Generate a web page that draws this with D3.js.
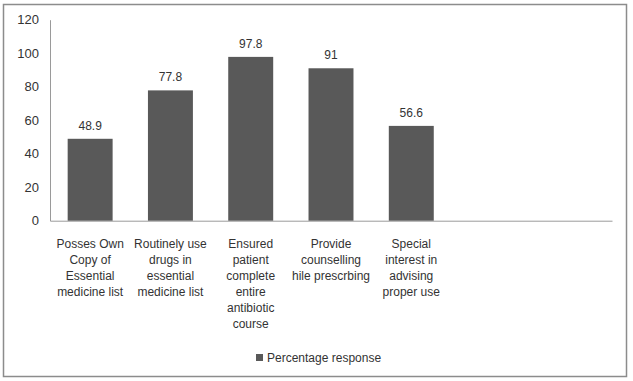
<html>
<head>
    <script src='https://cdnjs.cloudflare.com/ajax/libs/d3/7.8.5/d3.min.js'></script>
    <style>
        body { margin: 0; background: #fff; }
        text { font-family: 'Liberation Sans', Arial, sans-serif; fill: #333; }
    </style>
</head>
<body>
</body>

<script>
    // chart values
    var categories = [
        'Posses Own\nCopy of\nEssential\nmedicine list',
        'Routinely use\ndrugs in\nessential\nmedicine list',
        'Ensured\npatient\ncomplete\nentire\nantibiotic\ncourse',
        'Provide\ncounselling\nhile prescrbing',
        'Special\ninterest in\nadvising\nproper use'
    ];
    var values = [48.9, 77.8, 97.8, 91, 56.6];
    var yTicks = [0, 20, 40, 60, 80, 100, 120];
    var seriesName = 'Percentage response';
    var slotCount = 7; // the category axis keeps two empty slots on the right

    var width = 633, height = 381;
    var plotLeft = 50, plotRight = 612, plotTop = 19.7, plotBottom = 220.7;
    var barColor = '#595959';

    var svg = d3.select('body').append('svg')
                .attr('width', width).attr('height', height);

    // outer frame
    svg.append('rect')
       .attr('x', 3.5).attr('y', 4.5)
       .attr('width', 623).attr('height', 372)
       .style('fill', 'none').style('stroke', '#8c8c8c').style('stroke-width', 1.5);

    var x = d3.scaleBand()
              .domain(d3.range(slotCount))
              .range([plotLeft, plotRight])
              .paddingInner(0.44).paddingOuter(0.22);

    var y = d3.scaleLinear().domain([0, 120]).range([plotBottom, plotTop]);

    // y axis: labels only, plain line
    var yAxis = svg.append('g')
                   .attr('transform', 'translate(' + plotLeft + ',0)')
                   .call(d3.axisLeft(y).tickValues(yTicks).tickSize(0).tickPadding(11));
    yAxis.select('.domain').style('stroke', '#9a9a9a');
    yAxis.selectAll('text').style('font-size', '13px')
         .style('font-family', "'Liberation Sans', Arial, sans-serif").style('fill', '#333');

    // x axis line
    var xAxis = svg.append('g')
                   .attr('transform', 'translate(0,' + plotBottom + ')')
                   .call(d3.axisBottom(x).tickSize(0).tickFormat(''));
    xAxis.select('.domain').style('stroke', '#9a9a9a');

    // bars
    svg.selectAll('rect.bar').data(values).enter().append('rect')
       .attr('class', 'bar')
       .attr('x', function (d, i) { return x(i); })
       .attr('width', x.bandwidth())
       .attr('y', function (d) { return y(d); })
       .attr('height', function (d) { return y(0) - y(d); })
       .style('fill', barColor);

    // value labels
    svg.selectAll('text.value').data(values).enter().append('text')
       .attr('class', 'value')
       .attr('x', function (d, i) { return x(i) + x.bandwidth() / 2; })
       .attr('y', function (d) { return y(d) - 9; })
       .attr('text-anchor', 'middle')
       .style('font-size', '12px')
       .text(function (d) { return d; });

    // category labels, pre-wrapped
    categories.forEach(function (label, i) {
        var t = svg.append('text')
                   .attr('text-anchor', 'middle')
                   .attr('x', x(i) + x.bandwidth() / 2)
                   .attr('y', 247.8)
                   .style('font-size', '12px');
        label.split('\n').forEach(function (line, k) {
            t.append('tspan')
             .attr('x', x(i) + x.bandwidth() / 2)
             .attr('dy', k === 0 ? 0 : 16)
             .text(line);
        });
    });

    // legend
    var legend = svg.append('g').attr('transform', 'translate(256,354)');
    legend.append('rect')
          .attr('width', 7).attr('height', 7)
          .style('fill', barColor);
    legend.append('text')
          .attr('x', 11).attr('y', 7.8)
          .style('font-size', '12px')
          .text(seriesName);
</script>
</html>
